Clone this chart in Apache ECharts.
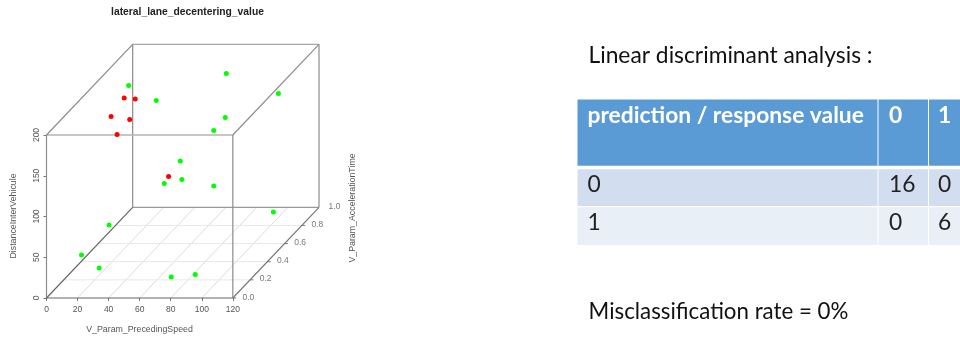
<!DOCTYPE html>
<html lang="en" style="height: 100%">
<head>
<meta charset="utf-8">
<title>lateral_lane_decentering_value</title>
</head>
<body style="height: 100%; margin: 0; background: #fff">
<div id="container" style="height: 100%"></div>

<script type="text/javascript" src="https://cdn.jsdelivr.net/npm/echarts/dist/echarts.min.js"></script>

<script type="text/javascript">
// points: [speed, acceleration time, distance]
var greenPoints = [
    [8.5, 0.8, 171.7], [37.4, 0.6, 175.6], [71.4, 0.8, 186.4], [99.4, 0.9, 150.8],
    [87.4, 0.5, 165.8], [85.5, 0.4, 161], [69.5, 0.3, 134.7], [59.2, 0.3, 107.1],
    [70.5, 0.3, 112], [85.5, 0.4, 92.9], [101.7, 0.8, 16.4], [7, 0.6, 22.8],
    [5.9, 0.3, 19.4], [22.8, 0.2, 14.6], [74.8, 0.1, 14.6], [84.7, 0.2, 6.6]
];
var redPoints = [
    [11.2, 0.7, 167.5], [18.3, 0.7, 166.3], [8.3, 0.6, 156],
    [20.3, 0.6, 152.3], [17.7, 0.5, 144.9], [62, 0.3, 115.7]
];
var speedTicks = [0, 20, 40, 60, 80, 100, 120];
var accelTicks = [0, 0.2, 0.4, 0.6, 0.8, 1];
var distanceTicks = [0, 50, 100, 150, 200];

var tableHeader = ['prediction / response value', '0', '1'];
var tableRows = [
    ['0', '16', '0'],
    ['1', '0', '6']
];

var plotFont = '"Liberation Sans", Arial, sans-serif';
var slideFont = 'Lato, "Noto Sans", sans-serif';

// oblique projection used by scatterplot3d: depth moves a point right and up
var depthX = 55.5;
var depthZ = 111.3;
function project(p) {
    return [p[0] + p[1] * depthX, p[2] + p[1] * depthZ];
}

function edge(from, to, color, width) {
    return {
        type: 'line',
        silent: true,
        symbol: 'none',
        clip: false,
        lineStyle: { color: color, width: width || 1 },
        data: [project(from), project(to)]
    };
}

var series = [];

// floor grid
speedTicks.slice(1, -1).forEach(function (v) {
    series.push(edge([v, 0, 0], [v, 1, 0], '#dcdcdc'));
});
accelTicks.slice(1, -1).forEach(function (v) {
    series.push(edge([0, v, 0], [120, v, 0], '#e8e8e8'));
});

// box
series.push(
    edge([0, 1, 0], [120, 1, 0], '#999', 1.2),
    edge([0, 1, 0], [0, 1, 200], '#8c8c8c', 1.2),
    edge([120, 1, 0], [120, 1, 200], '#8c8c8c', 1.2),
    edge([0, 1, 200], [120, 1, 200], '#a8a8a8', 1.2),
    edge([0, 0, 200], [120, 0, 200], '#b4b4b4', 1.6),
    edge([0, 0, 200], [0, 1, 200], '#8c8c8c', 1.2),
    edge([120, 0, 200], [120, 1, 200], '#8c8c8c', 1.2),
    edge([0, 0, 0], [0, 0, 200], '#8c8c8c', 1.2),
    edge([120, 0, 0], [120, 0, 200], '#8c8c8c', 1.2),
    edge([0, 0, 0], [0, 1, 0], '#666', 1.2),
    edge([120, 0, 0], [120, 1, 0], '#777', 1.2),
    edge([0, 0, 0], [120, 0, 0], '#666', 1.2)
);

// depth axis ticks and labels
accelTicks.slice(0, -1).forEach(function (v) {
    series.push(edge([120, v, 0], [122.2, v, 0], '#777'));
});
series.push({
    type: 'scatter',
    silent: true,
    clip: false,
    symbolSize: 1,
    itemStyle: { color: 'rgba(0,0,0,0)' },
    label: {
        show: true,
        position: 'inside',
        color: '#555',
        fontFamily: plotFont,
        fontSize: 8.5,
        formatter: function (p) { return accelTicks[p.dataIndex].toFixed(1); }
    },
    data: accelTicks.map(function (v) { return project([130, v, 1]); })
});

series.push({
    type: 'scatter',
    silent: true,
    z: 5,
    symbolSize: 5,
    itemStyle: { color: '#00ff00', opacity: 1 },
    data: greenPoints.map(project)
}, {
    type: 'scatter',
    silent: true,
    z: 5,
    symbolSize: 5,
    itemStyle: { color: '#ff0000', opacity: 1 },
    data: redPoints.map(project)
});

// slide table on the right
var colX = [577.5, 878.5, 929, 961];
var rowY = [[99.5, 165.7], [169.3, 206], [207.3, 245]];
var rowColor = ['#5b9bd5', '#d2deef', '#e9eff7'];
var textPad = [10, 10.5, 9];
var graphic = [];

[tableHeader].concat(tableRows).forEach(function (row, r) {
    row.forEach(function (cell, c) {
        graphic.push({
            type: 'rect',
            silent: true,
            shape: {
                x: colX[c],
                y: rowY[r][0],
                width: colX[c + 1] - colX[c] - 1,
                height: rowY[r][1] - rowY[r][0]
            },
            style: { fill: rowColor[r] }
        });
        graphic.push({
            type: 'text',
            silent: true,
            x: colX[c] + textPad[c],
            y: rowY[r][0] + (r === 0 ? 16 : 15),
            style: {
                text: cell,
                fill: r === 0 ? '#fff' : '#222',
                font: (r === 0 ? 'bold ' : '') + '22.8px ' + slideFont,
                verticalAlign: 'middle'
            }
        });
    });
});

function plainText(text, x, y, font, fill, rotation) {
    return {
        type: 'text',
        silent: true,
        x: x,
        y: y,
        rotation: rotation || 0,
        style: { text: text, font: font, fill: fill, align: 'center', verticalAlign: 'middle' }
    };
}

graphic.push(
    plainText('lateral_lane_decentering_value', 187.5, 12.5, 'bold 10.3px ' + plotFont, '#222'),
    plainText('V_Param_PrecedingSpeed', 139.5, 330, '8.8px ' + plotFont, '#555'),
    plainText('DistanceInterVehicule', 14, 216, '8.8px ' + plotFont, '#555', Math.PI / 2),
    plainText('V_Param_AccelerationTime', 352.5, 208, '8.8px ' + plotFont, '#555', Math.PI / 2),
    plainText('Linear discriminant analysis :', 730.5, 56, '22.8px ' + slideFont, '#111'),
    plainText('Misclassification rate = 0%', 718.5, 311.5, '22.3px ' + slideFont, '#111')
);

var myChart = echarts.init(document.getElementById('container'));

var option = {
    animation: false,
    backgroundColor: '#fff',
    grid: { left: 46.5, top: 44.3, width: 272.5, height: 253.7 },
    xAxis: {
        type: 'value',
        min: 0,
        max: 120 + depthX,
        splitLine: { show: false },
        axisLine: { show: false },
        axisTick: { show: true, customValues: speedTicks, length: 3, lineStyle: { color: '#777' } },
        axisLabel: {
            customValues: speedTicks,
            margin: 7,
            color: '#555',
            fontFamily: plotFont,
            fontSize: 8.5
        }
    },
    yAxis: {
        type: 'value',
        min: 0,
        max: 200 + depthZ,
        splitLine: { show: false },
        axisLine: { show: false },
        axisTick: { show: true, customValues: distanceTicks, length: 3, lineStyle: { color: '#777' } },
        axisLabel: {
            customValues: distanceTicks,
            rotate: 90,
            margin: 5,
            color: '#555',
            fontFamily: plotFont,
            fontSize: 8.5
        }
    },
    series: series,
    graphic: graphic
};

myChart.setOption(option);
window.addEventListener('resize', myChart.resize);
</script>
</body>
</html>
